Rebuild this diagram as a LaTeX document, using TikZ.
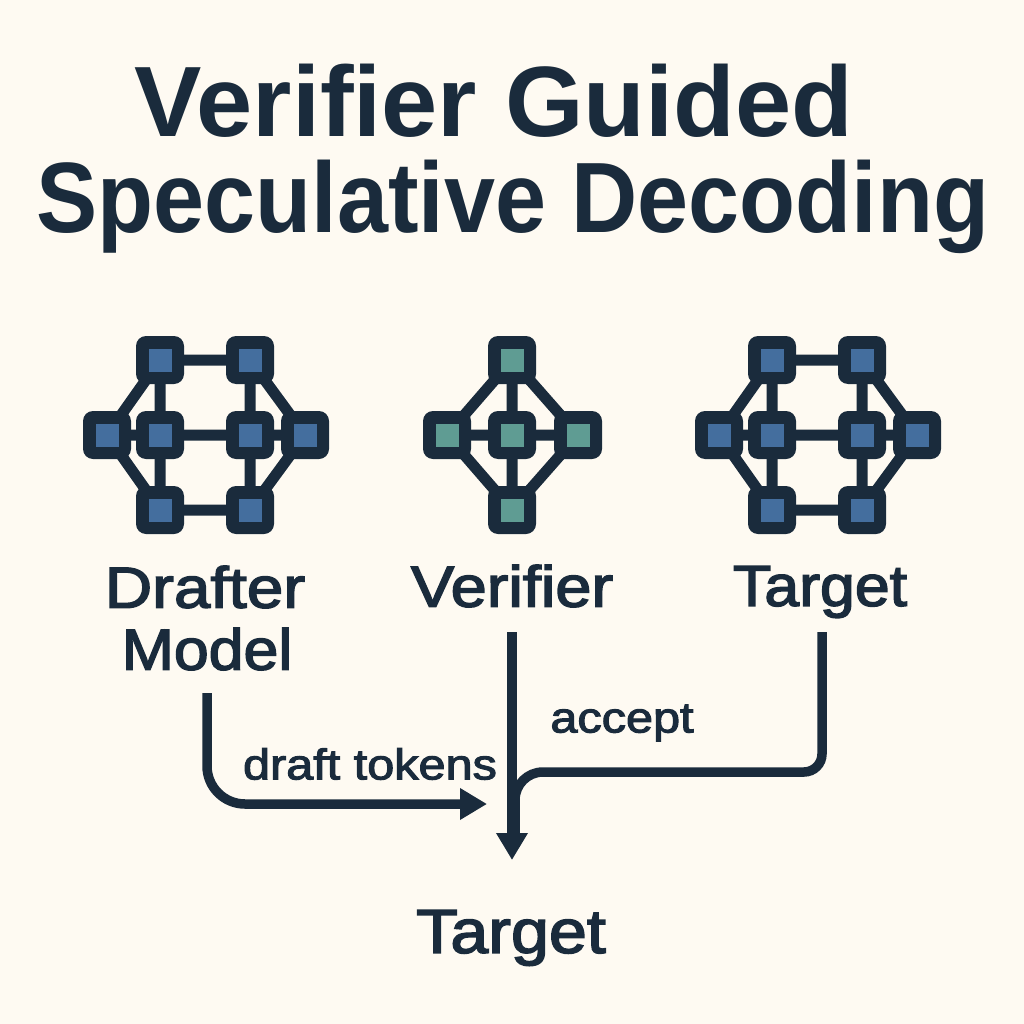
\documentclass[tikz,border=0pt]{standalone}
\usepackage{graphicx}
\usepackage{fontspec}
\setmainfont{Liberation Sans}
\definecolor{ink}{HTML}{1A2B3C}
\definecolor{paper}{HTML}{FEFAF2}
\definecolor{bluefill}{HTML}{446E9E}
\definecolor{greenfill}{HTML}{5F9C93}
\usetikzlibrary{arrows.meta}
\newcommand{\heavy}[2]{\special{pdf:code 2 Tr #1 w 0.102 0.169 0.235 RG}#2\special{pdf:code 0 Tr}}
\newcommand{\wide}[2]{\scalebox{#1}[1]{#2}}
\tikzset{
  outer/.style={fill=ink,draw=none,rounded corners=10pt,minimum size=48pt,inner sep=0pt,outer sep=0pt},
  bfill/.style={fill=bluefill,draw=none,sharp corners,minimum size=23pt,inner sep=0pt},
  gfill/.style={fill=greenfill,draw=none,sharp corners,minimum size=23pt,inner sep=0pt},
  link/.style={draw=ink,line width=11pt},
  flow/.style={draw=ink,line width=9.5pt},
  titletext/.style={text=ink,font=\fontsize{100}{110}\selectfont\bfseries,inner sep=0pt},
  labeltext/.style={text=ink,font=\fontsize{58}{66}\selectfont,inner sep=0pt},
  bigtext/.style={text=ink,font=\fontsize{62}{66}\selectfont,inner sep=0pt},
  smalltext/.style={text=ink,font=\fontsize{43}{46}\selectfont,inner sep=0pt},
  tip/.style={-{Triangle[length=27pt,width=30pt]}}
}
\newcommand{\hexnet}[3]{%
  \foreach \nm/\xx/\yy in {a/160/360,b/250/360,c/107/435,d/160/435,e/250/435,f/305/435,g/160/510,h/250/510}{%
    \coordinate (#2\nm) at (\xx+#1,\yy);
  }
  \draw[link] (#2a)--(#2b) (#2g)--(#2h) (#2c)--(#2f) (#2a)--(#2g) (#2b)--(#2h)
    (#2a)--(#2c)--(#2g) (#2b)--(#2f)--(#2h);
  \foreach \nm in {a,b,c,d,e,f,g,h}{%
    \node[outer] at (#2\nm) {};
    \node[#3] at (#2\nm) {};
  }
}
\begin{document}
\begin{tikzpicture}[x=1pt,y=-1pt]
\useasboundingbox (0,0) rectangle (1024,1024);
\fill[paper] (0,0) rectangle (1024,1024);
\node[titletext] (t1) at (494,101) {\wide{1.01}{Verifier Guided}};
\node[titletext] (t2) at (513,207) {\wide{0.917}{Speculative Decoding}};
\hexnet{0}{p}{bfill}
\hexnet{612}{q}{bfill}
\coordinate (va) at (512,360);
\coordinate (vb) at (447,435);
\coordinate (vc) at (512,435);
\coordinate (vd) at (578,435);
\coordinate (ve) at (512,510);
\draw[link] (va)--(ve) (vb)--(vd) (va)--(vb)--(ve)--(vd)--(va);
\foreach \nm in {a,b,c,d,e}{%
  \node[outer] at (v\nm) {};
  \node[gfill] at (v\nm) {};
}
\node[labeltext] (l1) at (205,587) {\wide{1.13}{\heavy{1.4}{Drafter}}};
\node[labeltext] (l2) at (207,649) {\wide{1.08}{\heavy{1.4}{Model}}};
\node[labeltext] (l3) at (512,586) {\wide{1.12}{\heavy{1.4}{Verifier}}};
\node[labeltext] (l4) at (820,592) {\wide{1.08}{\heavy{1.4}{Target}}};
\node[bigtext] (l5) at (511,938) {\wide{1.1}{\heavy{1.5}{Target}}};
\node[smalltext] (s1) at (370,764) {\wide{1.13}{\heavy{1}{draft tokens}}};
\node[smalltext] (s2) at (622,723) {\wide{1.13}{\heavy{1}{accept}}};
\coordinate (d0) at (207,693);
\coordinate (d1) at (207,804);
\coordinate (d2) at (487,804);
\coordinate (v0) at (512,632);
\coordinate (v1) at (512,860);
\coordinate (g0) at (822,632);
\coordinate (g1) at (822,772);
\coordinate (g2) at (515,772);
\coordinate (g3) at (515,835);
\draw[flow,tip,rounded corners=38pt] (d0)--(d1)--(d2);
\draw[flow] (g0) [rounded corners=18pt] -- (g1) [rounded corners=28pt] -- (g2) -- (g3);
\draw[flow,tip] (v0)--(v1);
\end{tikzpicture}
\end{document}
